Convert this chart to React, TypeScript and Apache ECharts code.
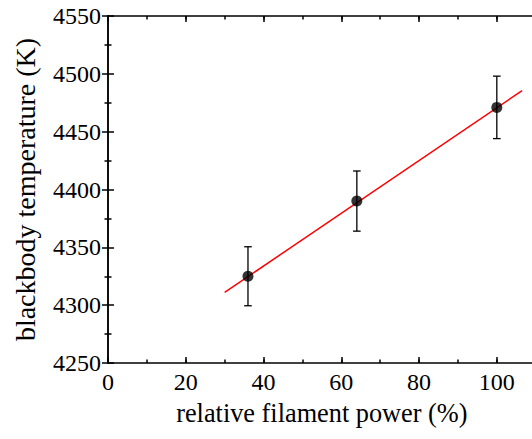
import React, { useEffect, useRef } from "react";
import * as echarts from "echarts";

const powers = [36, 64, 100];
const temps = [4325, 4390, 4471];
const errors = [25.5, 26, 27];
const fitX = [30, 106.5];
const fitY = [4311, 4485.5];
const xName = "relative filament power (%)";
const yName = "blackbody temperature (K)";

const FONT = "Liberation Serif";

export default function App() {
  const ref = useRef<HTMLDivElement>(null);
  useEffect(() => {
    if (!ref.current) return;
    const chart = echarts.init(ref.current, null, { renderer: "svg" });
    const lineStyle = { color: "#000", width: 1.5 };
    const baseX = {
      type: "value",
      min: 0,
      max: 110,
      splitLine: { show: false },
      axisLine: { show: true, lineStyle },
    };
    const majorX = (pos: string, labels: boolean) => ({
      ...baseX,
      position: pos,
      interval: 20,
      axisTick: { show: true, inside: true, length: 6, lineStyle },
      axisLabel: {
        show: labels,
        color: "#000",
        fontFamily: FONT,
        fontSize: 24,
        margin: 7,
        formatter: (v: number) => (v % 20 === 0 && v <= 100 ? String(v) : ""),
      },
      ...(labels
        ? {
            name: xName,
            nameLocation: "middle",
            nameGap: 37,
            nameTextStyle: { color: "#000", fontFamily: FONT, fontSize: 26.3 },
          }
        : {}),
    });
    const minorX = (pos: string) => ({
      ...baseX,
      position: pos,
      interval: 10,
      axisLine: { show: false },
      axisTick: { show: true, inside: true, length: 3.5, lineStyle },
      axisLabel: { show: false },
    });
    const yAx = (pos: string, labels: boolean) => ({
      type: "value",
      position: pos,
      min: 4250,
      max: 4550,
      interval: 50,
      splitLine: { show: false },
      axisLine: { show: true, lineStyle },
      axisTick: { show: true, inside: true, length: 6, lineStyle },
      minorTick: { show: true, splitNumber: 2, length: 3.5, lineStyle },
      axisLabel: {
        show: labels,
        color: "#000",
        fontFamily: FONT,
        fontSize: 24,
        margin: 7,
        formatter: (v: number) => String(v),
      },
      ...(labels
        ? {
            name: yName,
            nameLocation: "middle",
            nameGap: 69,
            nameTextStyle: { color: "#000", fontFamily: FONT, fontSize: 28 },
          }
        : {}),
    });

    chart.setOption({
      animation: false,
      textStyle: { fontFamily: FONT },
      grid: {
        left: 108,
        top: 16,
        right: -3.7,
        bottom: 76,
        containLabel: false,
        outerBoundsMode: "none",
      },
      xAxis: [majorX("bottom", true), majorX("top", false), minorX("bottom"), minorX("top")],
      yAxis: [yAx("left", true), yAx("right", false)],
      series: [
        {
          type: "line",
          xAxisIndex: 0,
          yAxisIndex: 0,
          data: fitX.map((x, i) => [x, fitY[i]]),
          showSymbol: false,
          symbol: "none",
          lineStyle: { color: "#ff0000", width: 1.5 },
          z: 2,
        },
        {
          type: "custom",
          xAxisIndex: 0,
          yAxisIndex: 0,
          data: powers.map((p, i) => [p, temps[i], errors[i]]),
          renderItem: (params: any, api: any) => {
            const x = api.value(0);
            const y = api.value(1);
            const e = api.value(2);
            const top = api.coord([x, y + e]);
            const bot = api.coord([x, y - e]);
            const hw = 3.8;
            const st = { stroke: "#000", lineWidth: 1.3 };
            return {
              type: "group",
              children: [
                { type: "line", shape: { x1: top[0], y1: top[1], x2: bot[0], y2: bot[1] }, style: st },
                { type: "line", shape: { x1: top[0] - hw, y1: top[1], x2: top[0] + hw, y2: top[1] }, style: st },
                { type: "line", shape: { x1: bot[0] - hw, y1: bot[1], x2: bot[0] + hw, y2: bot[1] }, style: st },
              ],
            };
          },
          z: 3,
        },
        {
          type: "scatter",
          xAxisIndex: 0,
          yAxisIndex: 0,
          data: powers.map((p, i) => [p, temps[i]]),
          symbol: "circle",
          symbolSize: 11,
          itemStyle: { color: "#000" },
          z: 4,
        },
      ],
    });
    return () => chart.dispose();
  }, []);
  return (
    <div
      ref={ref}
      style={{ position: "fixed", left: 0, top: 0, width: 532, height: 439, background: "#fff" }}
    />
  );
}
